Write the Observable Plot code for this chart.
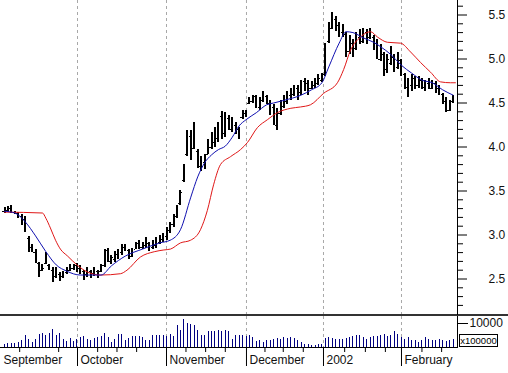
<!DOCTYPE html>
<html><head><meta charset="utf-8">
<script src="https://cdn.jsdelivr.net/npm/d3@7"></script>
<script src="https://cdn.jsdelivr.net/npm/@observablehq/plot@0.6"></script>
<style>
body{margin:0;background:#fff;}
#chart{width:508px;height:373px;position:relative;overflow:hidden;background:#fff;font-family:"Liberation Sans",Arial,sans-serif;}
#chart svg{display:block}
#sep{height:0;border-top:2px solid #333;width:508px;}
#unit{position:absolute;left:459px;top:334px;width:37px;height:11px;border:1px solid #000;font-size:9.5px;line-height:11px;text-align:center;color:#000;}
</style></head><body><div id="chart"><div id="pricePanel"></div><div id="sep"></div><div id="volPanel"></div><div id="unit">x100000</div></div>
<script>
// ---- data (bar index 0..130) ----
const high = [3.31,3.32,3.33,3.27,3.26,3.23,3.21,2.98,2.89,2.83,2.69,2.66,2.80,2.66,2.63,2.63,2.57,2.58,2.63,2.66,2.66,
2.68,2.65,2.60,2.63,2.60,2.63,2.60,2.66,2.83,2.85,2.77,2.81,2.83,2.89,2.89,2.83,2.85,2.92,2.94,2.91,2.97,2.92,2.94,2.97,3.00,3.02,
3.08,3.14,3.23,3.34,3.51,3.80,4.19,4.19,4.28,3.97,3.89,3.91,4.08,4.16,4.22,4.28,4.40,4.39,4.36,4.33,4.28,4.22,4.42,
4.42,4.56,4.59,4.59,4.56,4.63,4.59,4.53,4.48,4.44,4.53,4.59,4.63,4.67,4.70,4.70,4.76,4.78,4.76,4.74,4.78,4.82,4.84,
5.18,5.41,5.53,5.48,5.41,5.39,5.30,5.27,5.22,5.30,5.33,5.35,5.33,5.35,5.27,5.22,5.16,5.07,5.05,5.14,5.05,5.07,
4.99,4.84,4.78,4.82,4.80,4.80,4.78,4.76,4.78,4.76,4.74,4.70,4.61,4.56,4.53,4.59];
const low = [3.25,3.26,3.25,3.23,3.19,3.11,3.03,2.80,2.80,2.68,2.52,2.58,2.66,2.60,2.46,2.51,2.47,2.51,2.55,2.58,2.60,
2.57,2.55,2.48,2.52,2.51,2.53,2.51,2.57,2.63,2.69,2.66,2.69,2.72,2.77,2.81,2.72,2.74,2.83,2.83,2.83,2.85,2.81,2.83,2.85,2.89,2.91,
2.94,3.02,3.09,3.19,3.34,3.60,3.89,3.85,3.97,3.76,3.72,3.74,3.91,3.97,4.00,4.05,4.08,4.11,4.19,4.16,4.14,4.08,4.31,
4.33,4.48,4.50,4.44,4.42,4.51,4.48,4.36,4.25,4.19,4.36,4.44,4.48,4.53,4.57,4.53,4.59,4.63,4.59,4.65,4.67,4.70,4.73,
4.80,5.18,5.33,5.31,5.25,5.24,5.02,5.05,5.02,5.10,5.16,5.18,5.16,5.22,5.10,4.99,4.97,4.80,4.84,4.93,4.85,4.88,
4.80,4.65,4.56,4.63,4.65,4.67,4.65,4.63,4.65,4.65,4.61,4.59,4.48,4.39,4.40,4.50];
const open = [3.27,3.28,3.30,3.26,3.24,3.21,3.18,2.96,2.86,2.80,2.68,2.60,2.68,2.65,2.60,2.53,2.55,2.53,2.57,2.60,2.62,
2.65,2.62,2.58,2.55,2.58,2.56,2.59,2.58,2.65,2.82,2.70,2.72,2.78,2.80,2.86,2.82,2.76,2.84,2.90,2.86,2.88,2.90,2.86,2.88,2.92,2.95,
2.98,3.05,3.12,3.21,3.36,3.62,3.92,4.12,3.98,3.95,3.78,3.82,3.92,4.00,4.05,4.10,4.35,4.15,4.32,4.20,4.25,4.20,4.33,
4.38,4.49,4.52,4.57,4.45,4.53,4.57,4.50,4.45,4.25,4.38,4.46,4.52,4.58,4.60,4.66,4.62,4.74,4.72,4.67,4.70,4.72,4.76,
4.82,5.20,5.35,5.45,5.38,5.30,5.28,5.08,5.18,5.12,5.25,5.20,5.30,5.24,5.25,5.18,5.00,5.05,4.88,4.95,5.02,4.90,
4.98,4.82,4.68,4.70,4.78,4.70,4.76,4.68,4.72,4.67,4.72,4.66,4.60,4.52,4.42,4.52];
const close = [3.28,3.29,3.26,3.24,3.21,3.14,3.05,2.85,2.83,2.70,2.55,2.62,2.70,2.62,2.52,2.55,2.52,2.56,2.60,2.62,2.63,
2.60,2.58,2.55,2.58,2.56,2.59,2.58,2.63,2.80,2.72,2.75,2.79,2.80,2.86,2.83,2.76,2.82,2.88,2.86,2.88,2.92,2.86,2.90,2.94,2.97,3.00,
3.05,3.12,3.20,3.30,3.48,3.78,4.10,3.95,4.00,3.80,3.85,3.88,4.05,4.12,4.18,4.25,4.15,4.30,4.22,4.25,4.20,4.10,4.38,
4.40,4.52,4.55,4.48,4.52,4.55,4.50,4.40,4.30,4.40,4.50,4.55,4.60,4.62,4.65,4.68,4.72,4.70,4.68,4.72,4.75,4.78,4.80,
5.15,5.35,5.40,5.38,5.30,5.27,5.05,5.20,5.10,5.25,5.20,5.30,5.22,5.25,5.15,5.02,5.10,4.85,5.00,5.05,4.90,5.00,
4.85,4.70,4.75,4.78,4.70,4.75,4.70,4.72,4.68,4.70,4.65,4.62,4.52,4.45,4.50,4.57];
const volume = [1450,1740,1740,1885,2175,3190,5075,3625,2175,3625,5800,6235,5365,6090,7975,5075,6235,3625,2610,3915,2610,
3335,4350,4640,3480,2900,3915,4350,4785,6235,4350,2175,3335,5510,5510,2900,4060,4640,4640,4640,4350,2900,3190,5075,5365,5365,
5365,4785,5510,4640,9425,7250,12035,10440,10150,9425,7540,5075,5365,6815,6815,6815,7250,6815,7540,6815,3625,5075,5075,
5365,4640,5075,4350,2600,2900,2175,3190,2900,3335,3900,3625,4350,4060,4350,3900,2900,2175,1450,1160,1000,1000,1160,1300,
4060,4350,3900,3625,3625,3335,3900,4350,4785,5365,5365,4350,3335,4350,4785,4785,5365,5800,4785,5365,6815,5800,
4350,3625,4350,2900,3190,2175,2900,4350,3625,2900,3190,3625,2900,2465,3190,3625];
// moving averages: [bar index, price]
const fastMA = [[0,3.27],[3,3.25],[6,3.15],[9,2.99],[12,2.81],[15,2.66],[18,2.59],[22,2.545],[28,2.545],[31,2.65],[35,2.76],
[40,2.84],[45,2.91],[48,2.94],[51,3.06],[54,3.43],[56,3.66],[58,3.82],[60,3.91],[62,3.97],[64,4.01],[66,4.11],[68,4.24],
[70,4.31],[73,4.39],[76,4.48],[78,4.50],[81,4.53],[86,4.59],[89,4.65],[92,4.73],[94,4.91],[97,5.18],[99,5.31],[101,5.30],
[104,5.24],[107,5.19],[109,5.14],[112,5.05],[115,4.93],[118,4.84],[121,4.76],[124,4.73],[127,4.65],[130,4.59]];
const slowMA = [[0,3.26],[11,3.25],[12,3.19],[13.3,3.08],[14.8,2.94],[16.2,2.84],[18.3,2.76],[21,2.66],[24,2.58],[27.8,2.545],
[33.6,2.56],[35.5,2.60],[39.4,2.75],[43.4,2.81],[46.2,2.83],[48.1,2.84],[51,2.91],[53.9,2.94],[56.8,3.06],[58.8,3.28],[60.6,3.57],
[62.6,3.80],[65.5,3.89],[68.4,3.97],[70.4,4.05],[73.3,4.22],[76.2,4.31],[79.1,4.39],[83,4.44],[85.8,4.455],[88.7,4.48],
[92.5,4.61],[96.5,4.73],[98.3,4.88],[100.3,5.10],[103.2,5.25],[106.1,5.31],[108.1,5.25],[111,5.19],[114.8,5.18],[117.7,5.08],
[120.6,4.96],[123.5,4.85],[126.4,4.74],[129.3,4.73],[130.7,4.73]];
const monthBounds = [21.16, 46.96, 70.14, 92.46, 115.07];
const monthLabelAt = [-1.16, 21.16, 46.96, 70.14, 92.46, 115.07];
const monthLabels = ["September","October","November","December","2002","February"];
const weekTicks = [4.4, 15.7, 27, 32.6, 38.3, 52.6, 58.3, 64, 75.5, 80.8, 86.6, 98.6, 104.6, 110.4, 121, 126.7];
const priceMajor = [2.5,3.0,3.5,4.0,4.5,5.0,5.5];
const priceMinor = [2.2,2.3,2.4,2.6,2.7,2.8,2.9,3.1,3.2,3.3,3.4,3.6,3.7,3.8,3.9,4.1,4.2,4.3,4.4,4.6,4.7,4.8,4.9,5.1,5.2,5.3,5.4,5.6];
const volTicks = [10000];

const bars = high.map((h, i) => ({i, o: open[i], h, l: low[i], c: close[i], v: volume[i]}));
const fastPts = fastMA.map(([i, p]) => ({i, p}));
const slowPts = slowMA.map(([i, p]) => ({i, p}));

const xs = {domain: [0, 130], range: [4, 452.5], label: null};
const font = {fontFamily: "'Liberation Sans', Arial, sans-serif", fontSize: "12px", background: "white", color: "#000", overflow: "visible"};

const priceChart = Plot.plot({
  width: 508, height: 314, marginLeft: 0, marginRight: 51, marginTop: 0, marginBottom: 0,
  style: font,
  x: {...xs, axis: null},
  y: {domain: [2.5, 5.5], range: [278.5, 14.5], axis: null, label: null},
  marks: [
    Plot.ruleX(monthBounds, {stroke: "#a8a8a8", strokeDasharray: "3,3"}),
    Plot.ruleX(bars, {x: "i", y1: "l", y2: "h", stroke: "#000", strokeWidth: 2, shapeRendering: "crispEdges"}),
    Plot.ruleY(bars, {y: "o", x1: d => d.i - 0.45, x2: "i", stroke: "#000", strokeWidth: 1, shapeRendering: "crispEdges"}),
    Plot.ruleY(bars, {y: "c", x1: "i", x2: d => d.i + 0.45, stroke: "#000", strokeWidth: 1, shapeRendering: "crispEdges"}),
    Plot.line(slowPts, {x: "i", y: "p", stroke: "#e01818", strokeWidth: 1, curve: "monotone-x"}),
    Plot.line(fastPts, {x: "i", y: "p", stroke: "#1010b0", strokeWidth: 1, curve: "monotone-x"}),
    Plot.frame({anchor: "right", stroke: "#000"}),
    Plot.axisY(priceMinor, {anchor: "right", tickSize: 5, tickFormat: () => "", stroke: "#000", label: null}),
    Plot.axisY(priceMajor, {anchor: "right", tickSize: 9, tickPadding: 22, tickFormat: d3.format(".1f"), stroke: "#000", fill: "#111", label: null})
  ]
});
document.getElementById("pricePanel").appendChild(priceChart);

const volChart = Plot.plot({
  width: 508, height: 57, marginLeft: 0, marginRight: 51, marginTop: 0, marginBottom: 26,
  style: font,
  x: {...xs, axis: null},
  y: {domain: [0, 10000], range: [31, 8], axis: null, label: null},
  marks: [
    Plot.ruleX(monthBounds, {stroke: "#a8a8a8", strokeDasharray: "3,3"}),
    Plot.ruleX(bars, {x: "i", y1: 0, y2: "v", stroke: "#000080", strokeWidth: 1, shapeRendering: "crispEdges"}),
    Plot.ruleY([0], {stroke: "#000"}),
    Plot.frame({anchor: "right", stroke: "#000"}),
    Plot.axisY(volTicks, {anchor: "right", tickSize: 10, tickPadding: 2, dy: -1, tickFormat: d => String(d), stroke: "#000", fill: "#111", label: null}),
    Plot.axisX(monthBounds, {anchor: "bottom", tickSize: 19, tickFormat: () => "", stroke: "#000", label: null}),
    Plot.axisX(weekTicks, {anchor: "bottom", tickSize: 5, tickFormat: () => "", stroke: "#000", label: null}),
    Plot.text(monthLabels, {x: (d, k) => monthLabelAt[k], text: d => d, frameAnchor: "bottom", lineAnchor: "top", dy: 8, dx: 3, textAnchor: "start", fill: "#111"})
  ]
});
document.getElementById("volPanel").appendChild(volChart);
</script></body></html>
